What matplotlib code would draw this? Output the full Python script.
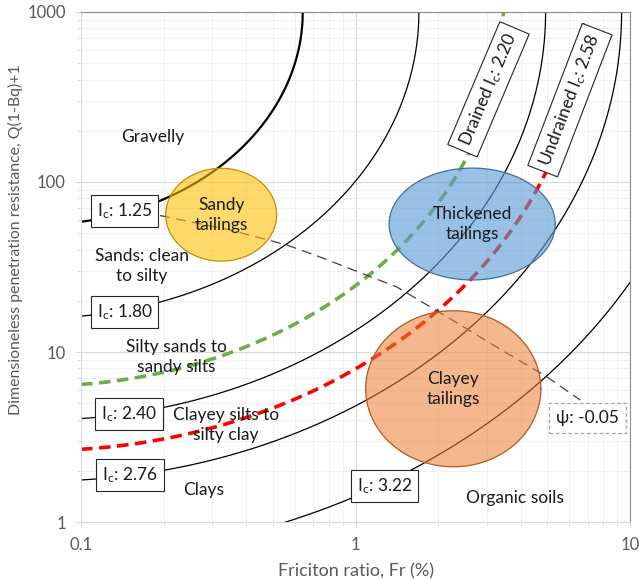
import numpy as np
import matplotlib.pyplot as plt

plt.rcParams['font.family'] = ['Lato', 'DejaVu Sans']
plt.rcParams['mathtext.default'] = 'regular'

# soil behaviour type index contours (Been & Jefferies form)
ic_levels = [1.25, 1.80, 2.40, 2.76, 3.22]
ic_widths = [1.6, 0.9, 0.9, 0.9, 0.9]
ic_drained = 2.20
ic_undrained = 2.58
undrained_fr_max = 6.76

# state parameter line psi = -0.05
psi_fr = [0.194, 0.349, 0.562, 0.743, 1.416, 2.21, 3.36, 4.99, 6.58]
psi_q = [63.5, 52.2, 42.6, 36.2, 24.1, 15.7, 10.4, 7.13, 5.22]

# tailings zones: centre (Fr, Q) and half axes in log decades
zone_names = ['Sandy\ntailings', 'Thickened\ntailings', 'Clayey\ntailings']
zone_fr = [0.324, 2.66, 2.27]
zone_q = [64.2, 56.6, 6.08]
zone_half_fr = [0.202, 0.3025, 0.319]
zone_half_q = [0.273, 0.329, 0.459]
zone_face = ['#FFC000', '#5B9BD5', '#ED7D31']
zone_edge = ['#BF9000', '#41719C', '#AE5A21']
zone_alpha = [0.58, 0.62, 0.55]

# soil type regions
region_names = ['Gravelly', 'Sands: clean\nto silty', 'Silty sands to\nsandy silts',
                'Clayey silts to\nsilty clay', 'Clays', 'Organic soils']
region_fr = [0.183, 0.167, 0.222, 0.337, 0.279, 3.81]
region_q = [184.7, 32.0, 9.35, 3.72, 1.54, 1.38]

# contour labels
ic_label_fr = [0.144, 0.144, 0.150, 0.151, 1.276]
ic_label_q = [67.5, 17.1, 4.32, 1.89, 1.63]


def ic_curve(ic, fr_max=10.0):
    fr = np.logspace(-1, np.log10(fr_max), 3000)
    x = 1.5 + 1.3 * np.log10(fr)
    inner = ic ** 2 - x ** 2
    ok = inner >= 0
    q = 10 ** (3 - np.sqrt(inner[ok]))
    fr = fr[ok]
    # close the curve exactly where it meets Q = 1000
    if fr[-1] < fr_max:
        fr = np.append(fr, 10 ** ((ic - 1.5) / 1.3))
        q = np.append(q, 1000.0)
    return fr, q


fig = plt.figure(figsize=(6.39, 5.79), dpi=100)
ax = fig.add_axes([0.1268, 0.0984, 0.8592, 0.8809])
ax.set_xscale('log')
ax.set_yscale('log')
ax.set_xlim(0.1, 10)
ax.set_ylim(1, 1000)

ax.grid(True, which='major', color='#D9D9D9', lw=0.8, zorder=0)
ax.grid(True, which='minor', color='#EFEFEF', lw=0.6, zorder=0)
ax.set_axisbelow(True)

for ic, lw in zip(ic_levels, ic_widths):
    fr, q = ic_curve(ic)
    ax.plot(fr, q, color='black', lw=lw, zorder=2)

fr, q = ic_curve(ic_drained)
ax.plot(fr, q, color='#70AD47', lw=2.6, dashes=(3.2, 1.8), zorder=2)
fr, q = ic_curve(ic_undrained, undrained_fr_max)
ax.plot(fr, q, color='#FF0000', lw=2.6, dashes=(3.2, 1.8), zorder=2)
ax.plot(fr[-1], q[-1], 'o', color='#FF0000', ms=2.5, zorder=2)

ax.plot(psi_fr, psi_q, color='#404040', lw=0.9, dashes=(8, 5), zorder=2)

t = np.linspace(0, 2 * np.pi, 300)
for name, cf, cq, hf, hq, fc, ec, al in zip(zone_names, zone_fr, zone_q, zone_half_fr,
                                            zone_half_q, zone_face, zone_edge, zone_alpha):
    ex = 10 ** (np.log10(cf) + hf * np.cos(t))
    ey = 10 ** (np.log10(cq) + hq * np.sin(t))
    ax.fill(ex, ey, facecolor=fc, alpha=al, edgecolor='none', zorder=3)
    ax.plot(ex, ey, color=ec, lw=0.9, zorder=3)
    ax.text(cf, cq, name, ha='center', va='center', fontsize=12.5,
            color='#1A1A1A', linespacing=1.3, zorder=4)

for name, rf, rq in zip(region_names, region_fr, region_q):
    ax.text(rf, rq, name, ha='center', va='center', fontsize=12.5,
            color='#1A1A1A', linespacing=1.3, zorder=4)

box = dict(boxstyle='square,pad=0.35', facecolor='white', edgecolor='#262626', lw=0.8)
for ic, lf, lq in zip(ic_levels, ic_label_fr, ic_label_q):
    ax.text(lf, lq, 'I$_c$: %.2f' % ic, ha='center', va='center', fontsize=12.5,
            color='#1A1A1A', bbox=box, zorder=5)

ax.text(3.05, 351, 'Drained I$_c$: %.2f' % ic_drained, ha='center', va='center',
        rotation=67, rotation_mode='anchor', fontsize=12.5, color='#1A1A1A', bbox=box, zorder=5)
ax.text(6.04, 303, 'Undrained I$_c$: %.2f' % ic_undrained, ha='center', va='center',
        rotation=69, rotation_mode='anchor', fontsize=12.5, color='#1A1A1A', bbox=box, zorder=5)

psi_box = dict(boxstyle='square,pad=0.4', facecolor='white', edgecolor='#A6A6A6',
               lw=0.9, linestyle=(0, (3, 2)))
ax.text(7.0, 4.09, 'ψ: -0.05', ha='center', va='center', fontsize=12.5,
        color='#1A1A1A', bbox=psi_box, zorder=5)

ax.set_xticks([0.1, 1, 10])
ax.set_xticklabels(['0.1', '1', '10'])
ax.set_yticks([1, 10, 100, 1000])
ax.set_yticklabels(['1', '10', '100', '1000'])
ax.tick_params(which='both', colors='#D9D9D9', labelcolor='#595959', labelsize=12)
ax.tick_params(which='major', length=4, pad=7)
ax.tick_params(which='minor', length=3)
ax.yaxis.set_minor_formatter(plt.NullFormatter())
ax.xaxis.set_minor_formatter(plt.NullFormatter())

for side in ['left', 'bottom']:
    ax.spines[side].set_color('#D9D9D9')
for side in ['top', 'right']:
    ax.spines[side].set_color('#8C8C8C')

ax.set_xlabel('Friciton ratio, Fr (%)', fontsize=13, color='#595959', labelpad=7)
ax.set_ylabel('Dimensioneless penetration resistance, Q(1-Bq)+1', fontsize=11.4,
              color='#595959', va='center')
ax.yaxis.set_label_coords(-0.12, 0.553)

fig.savefig('out.png', dpi=100)
